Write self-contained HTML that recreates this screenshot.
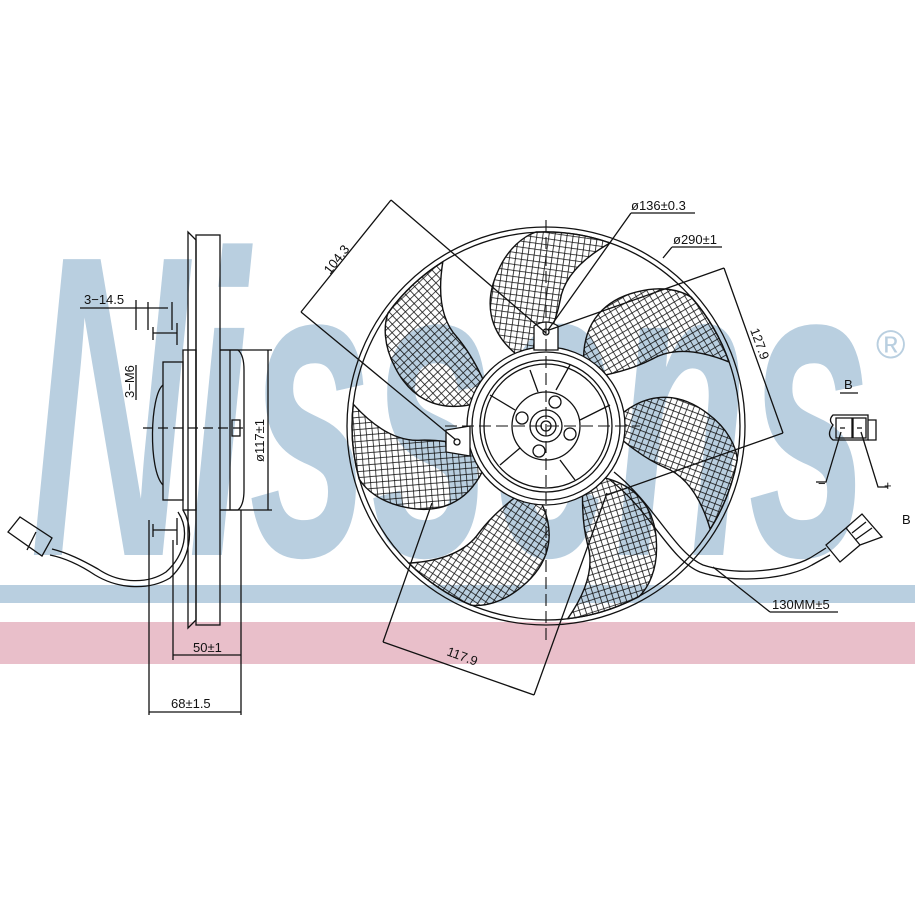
<!DOCTYPE html>
<html><head><meta charset="utf-8"><style>html,body{margin:0;padding:0;background:#fff}svg{display:block}</style></head>
<body>
<svg width="915" height="915" viewBox="0 0 915 915" xmlns="http://www.w3.org/2000/svg">
<defs>
<pattern id="h" width="6" height="6" patternUnits="userSpaceOnUse" patternTransform="rotate(8)">
<path d="M0 0H6M0 0V6" stroke="#111" stroke-width="1.6" fill="none"/>
</pattern>
</defs>
<rect width="915" height="915" fill="#fff"/>
<text x="30" y="555" font-family="Liberation Sans, sans-serif" font-weight="bold" font-style="italic" font-size="430" fill="#b9cfe0" textLength="840" lengthAdjust="spacingAndGlyphs">Nissens</text>
<text x="876" y="358" font-family="Liberation Sans, sans-serif" font-size="40" fill="#b9cfe0">®</text>
<rect x="0" y="585" width="915" height="18" fill="#b9cfe0"/>
<rect x="0" y="622" width="915" height="42" fill="#e9bfca"/>

<g fill="none" stroke="#111" stroke-width="1.3">
<path d="M188 232 L196 240 L196 620 L188 628 Z"/>
<rect x="196" y="235" width="24" height="390"/>
<rect x="183" y="350" width="13" height="160"/>
<rect x="163" y="362" width="20" height="138"/>
<path d="M163 385 C150 395 148 470 163 485"/>
<path d="M220 350 H238 Q244 355 244 370 V490 Q244 505 238 510 H220"/>
<path d="M230 350 V510"/>
<rect x="232" y="420" width="8" height="16"/>
<path d="M143 428 H246" stroke-dasharray="10,5"/>
<path d="M220 350 H272 M220 510 H272 M268 350 V510"/>
<path d="M153 333 H177 M153 327 V340 M177 323 V345"/>
<path d="M153 530 H177 M153 524 V537 M177 518 V545"/>
<path d="M80 308 H168 M148 302 V330 M172 302 V330"/>
<path d="M136 300 V330 M136 365 V400"/>
<path d="M183 510 C195 530 190 560 170 578 C150 590 120 590 95 575 C80 565 65 558 50 555"/>
<path d="M178 512 C190 530 185 555 166 572 C148 584 120 584 98 569 C82 560 68 553 52 549"/>
<path d="M8 532 L20 517 L52 538 L42 556 Z M36 532 L27 550"/>
<path d="M149 520 V715 M173 540 V660 M241 510 V715"/>
<path d="M173 655 H241 M149 712 H241"/>
<circle cx="546" cy="426" r="199"/>
<circle cx="546" cy="426" r="194"/>
<g fill="url(#h)" stroke="#111" stroke-width="1.4">
<path d="M-30,-72 C-58,-95 -62,-125 -48,-155 C-38,-178 -22,-190 -10,-194 A194 194 0 0 1 64,-183 C32,-165 17,-145 14,-125 C10,-105 2,-88 -3,-78 Z" transform="translate(546 426)"/>
<path d="M-30,-72 C-58,-95 -62,-125 -48,-155 C-38,-178 -22,-190 -10,-194 A194 194 0 0 1 64,-183 C32,-165 17,-145 14,-125 C10,-105 2,-88 -3,-78 Z" transform="translate(546 426) rotate(51.43)"/>
<path d="M-30,-72 C-58,-95 -62,-125 -48,-155 C-38,-178 -22,-190 -10,-194 A194 194 0 0 1 64,-183 C32,-165 17,-145 14,-125 C10,-105 2,-88 -3,-78 Z" transform="translate(546 426) rotate(102.86)"/>
<path d="M-30,-72 C-58,-95 -62,-125 -48,-155 C-38,-178 -22,-190 -10,-194 A194 194 0 0 1 64,-183 C32,-165 17,-145 14,-125 C10,-105 2,-88 -3,-78 Z" transform="translate(546 426) rotate(154.29)"/>
<path d="M-30,-72 C-58,-95 -62,-125 -48,-155 C-38,-178 -22,-190 -10,-194 A194 194 0 0 1 64,-183 C32,-165 17,-145 14,-125 C10,-105 2,-88 -3,-78 Z" transform="translate(546 426) rotate(205.71)"/>
<path d="M-30,-72 C-58,-95 -62,-125 -48,-155 C-38,-178 -22,-190 -10,-194 A194 194 0 0 1 64,-183 C32,-165 17,-145 14,-125 C10,-105 2,-88 -3,-78 Z" transform="translate(546 426) rotate(257.14)"/>
<path d="M-30,-72 C-58,-95 -62,-125 -48,-155 C-38,-178 -22,-190 -10,-194 A194 194 0 0 1 64,-183 C32,-165 17,-145 14,-125 C10,-105 2,-88 -3,-78 Z" transform="translate(546 426) rotate(308.57)"/>
</g>
<circle cx="546" cy="426" r="79" fill="#fff"/>
<circle cx="546" cy="426" r="74"/>
<circle cx="546" cy="426" r="66"/>
<circle cx="546" cy="426" r="62"/>
<circle cx="546" cy="426" r="34"/>
<circle cx="546" cy="426" r="16"/>
<circle cx="546" cy="426" r="10"/>
<circle cx="546" cy="426" r="5"/>
<circle cx="555" cy="402" r="6"/><circle cx="570" cy="434" r="6"/><circle cx="539" cy="451" r="6"/><circle cx="522" cy="418" r="6"/>
<path d="M556 390 L570 365 M580 420 L610 405 M560 460 L575 480 M520 448 L500 465 M515 410 L490 395 M538 392 L530 370"/>
<path d="M534 350 V326 Q546 318 558 326 V350 Z" fill="#fff"/>
<circle cx="546" cy="332" r="3"/>
<path d="M446 430 V452 L470 456 V426 Z" fill="#fff"/>
<circle cx="457" cy="442" r="3"/>
<path d="M546 220 V640 M445 426 H640" stroke-dasharray="12,5" stroke-width="1.1"/>
<path d="M391 200 L301 312 M391 200 L546 333 M301 312 L456 440"/>
<path d="M724 268 L783 433 M724 268 L549 330 M783 433 L607 495"/>
<path d="M383 642 L534 695 M383 642 L432 503 M534 695 L607 493"/>
<path d="M631 213 H695 M631 213 L548 330"/>
<path d="M672 247 H722 M672 247 L663 258"/>
<path d="M770 612 H838 M770 612 L713 567"/>
<path d="M610 480 C650 510 670 560 700 572 C740 585 790 578 812 565 L830 555"/>
<path d="M614 472 C655 505 675 553 703 565 C740 577 788 570 810 558 L826 548"/>
<path d="M826 545 L846 528 L860 545 L840 562 Z M846 528 L862 514 L882 537 L860 545 M855 540 L872 528 M852 533 L866 522"/>
<path d="M833 425 Q828 420 833 415 H868 V440 H833 Q826 435 833 425 Z"/>
<path d="M836 418 H852 V438 H836 Z M853 418 H866 V438 H853 Z M840 428 H845 M857 428 H862"/>
<path d="M868 420 H876 V440 H868"/>
<path d="M841 432 L826 482 H816 M861 432 L878 487 H888"/>
<path d="M840 393 H858"/>
</g>
<g font-family="Liberation Sans, sans-serif" font-size="13" fill="#111">
<text x="84" y="304">3−14.5</text>
<text transform="translate(134 398) rotate(-90)">3−M6</text>
<text transform="translate(264 462) rotate(-90)">ø117±1</text>
<text x="193" y="652">50±1</text>
<text x="171" y="708">68±1.5</text>
<text transform="translate(330 275) rotate(-52)">104.3</text>
<text transform="translate(750 330) rotate(70)">127.9</text>
<text transform="translate(446 655) rotate(20)">117.9</text>
<text x="631" y="210">ø136±0.3</text>
<text x="673" y="244">ø290±1</text>
<text x="772" y="609">130MM±5</text>
<text x="844" y="389">B</text>
<text x="902" y="524">B</text>
<text x="818" y="488">−</text>
<text x="884" y="490">+</text>
</g>
</svg>
</body></html>
